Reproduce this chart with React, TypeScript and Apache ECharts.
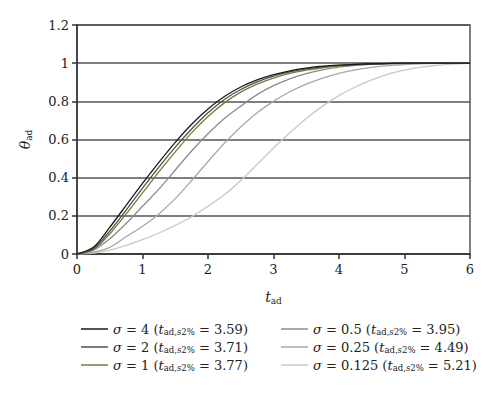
import React, { useEffect, useRef } from "react";
import * as echarts from "echarts";

const tValues = [0, 0.25, 0.5, 0.75, 1, 1.25, 1.5, 1.75, 2, 2.25, 2.5, 2.75, 3, 3.25, 3.5, 3.75, 4, 4.25, 4.5, 4.75, 5, 5.25, 5.5, 5.75, 6];

const sigma4 = [0, 0.035, 0.14, 0.255, 0.37, 0.48, 0.585, 0.68, 0.76, 0.825, 0.875, 0.912, 0.94, 0.96, 0.974, 0.984, 0.99, 0.994, 0.997, 0.999, 1, 1, 1, 1, 1];
const sigma2 = [0, 0.028, 0.12, 0.23, 0.345, 0.455, 0.56, 0.655, 0.74, 0.81, 0.862, 0.902, 0.932, 0.954, 0.97, 0.981, 0.988, 0.993, 0.996, 0.998, 1, 1, 1, 1, 1];
const sigma1 = [0, 0.022, 0.105, 0.21, 0.32, 0.43, 0.535, 0.635, 0.72, 0.792, 0.848, 0.89, 0.922, 0.946, 0.963, 0.976, 0.985, 0.991, 0.995, 0.998, 1, 1, 1, 1, 1];
const sigma05 = [0, 0.02, 0.08, 0.16, 0.25, 0.34, 0.44, 0.54, 0.63, 0.71, 0.775, 0.835, 0.882, 0.918, 0.945, 0.965, 0.979, 0.988, 0.994, 0.997, 0.999, 1, 1, 1, 1];
const sigma025 = [0, 0.01, 0.035, 0.09, 0.145, 0.21, 0.29, 0.385, 0.485, 0.58, 0.665, 0.74, 0.8, 0.85, 0.89, 0.922, 0.947, 0.965, 0.978, 0.987, 0.993, 0.997, 0.999, 1, 1];
const sigma0125 = [0, 0.005, 0.02, 0.045, 0.075, 0.11, 0.15, 0.195, 0.25, 0.31, 0.385, 0.47, 0.555, 0.635, 0.71, 0.775, 0.83, 0.875, 0.912, 0.942, 0.963, 0.979, 0.989, 0.995, 0.999];

const sigmaLabels = ["4", "2", "1", "0.5", "0.25", "0.125"];
const settleTimes = ["3.59", "3.71", "3.77", "3.95", "4.49", "5.21"];
const seriesValues = [sigma4, sigma2, sigma1, sigma05, sigma025, sigma0125];
const seriesColors = ["#1a1a1a", "#505050", "#7a7a3c", "#8c8c8c", "#a8a8a8", "#c8c8c8"];

const serif = "DejaVu Serif";

export default function App() {
  const ref = useRef<HTMLDivElement>(null);
  useEffect(() => {
    if (!ref.current) return;
    const chart = echarts.init(ref.current, null, { renderer: "svg" });
    const names = sigmaLabels.map((s, i) => `sigma${i}`);
    const rich = {
      i: { fontFamily: serif, fontStyle: "italic", fontSize: 13, color: "#222" },
      n: { fontFamily: serif, fontSize: 13, color: "#222" },
      s: { fontFamily: serif, fontSize: 8.5, color: "#222", padding: [6, 0, 0, 0] },
      si: { fontFamily: serif, fontStyle: "italic", fontSize: 8.5, color: "#222", padding: [6, 0, 0, 0] },
    };
    const legendFormatter = (name: string) => {
      const idx = names.indexOf(name);
      return `{i|σ}{n| = ${sigmaLabels[idx]} (}{i|t}{s|ad,}{si|s}{s|2%}{n| = ${settleTimes[idx]})}`;
    };
    const legendCommon = {
      orient: "vertical" as const,
      icon: "rect",
      itemWidth: 27,
      itemHeight: 1.5,
      itemGap: 2,
      formatter: legendFormatter,
      textStyle: { rich, fontFamily: serif, fontSize: 13, color: "#222", lineHeight: 16 },
      selectedMode: false,
    };
    const nameRich = {
      i: { fontFamily: serif, fontStyle: "italic", fontSize: 14, color: "#222" },
      s: { fontFamily: serif, fontSize: 9, color: "#222", padding: [7, 0, 0, 0] },
    };
    chart.setOption({
      animation: false,
      backgroundColor: "#fff",
      textStyle: { fontFamily: serif },
      grid: {
        left: 77,
        right: 30,
        top: 25,
        bottom: 139,
        show: true,
        borderColor: "#555",
        borderWidth: 1.5,
        backgroundColor: "transparent",
      },
      legend: [
        { ...legendCommon, left: 76, top: 316, data: names.slice(0, 3) },
        { ...legendCommon, left: 276, top: 316, data: names.slice(3) },
      ],
      xAxis: {
        type: "value",
        min: 0,
        max: 6,
        interval: 1,
        name: "{i|t}{s|ad}",
        nameLocation: "middle",
        nameGap: 35,
        nameTextStyle: { rich: nameRich, fontFamily: serif },
        axisLine: { show: true, lineStyle: { color: "#333", width: 1.5 } },
        axisTick: { show: true, length: 5, lineStyle: { color: "#333", width: 1.5 } },
        axisLabel: { fontFamily: serif, fontSize: 13, color: "#222", margin: 9 },
        splitLine: { show: false },
      },
      yAxis: {
        type: "value",
        min: 0,
        max: 1.2,
        interval: 0.2,
        name: "{i|θ}{s|ad}",
        nameLocation: "middle",
        nameRotate: 90,
        nameGap: 44,
        nameTextStyle: { rich: nameRich, fontFamily: serif },
        axisLine: { show: true, lineStyle: { color: "#333", width: 1.5 } },
        axisTick: { show: true, length: 5, lineStyle: { color: "#333", width: 1.5 } },
        axisLabel: { fontFamily: serif, fontSize: 13, color: "#222", margin: 8 },
        splitLine: { show: true, lineStyle: { color: "#555", width: 1.5 } },
      },
      series: seriesValues.map((vals, i) => ({
        name: names[i],
        type: "line",
        symbol: "none",
        smooth: 0.3,
        data: tValues.map((t, k) => [t, vals[k]]),
        lineStyle: { color: seriesColors[i], width: 1.3 },
        itemStyle: { color: seriesColors[i] },
        z: 10 - i,
      })),
    });
    return () => chart.dispose();
  }, []);
  return <div ref={ref} style={{ width: 500, height: 393, position: "absolute", left: 0, top: 0 }} />;
}
